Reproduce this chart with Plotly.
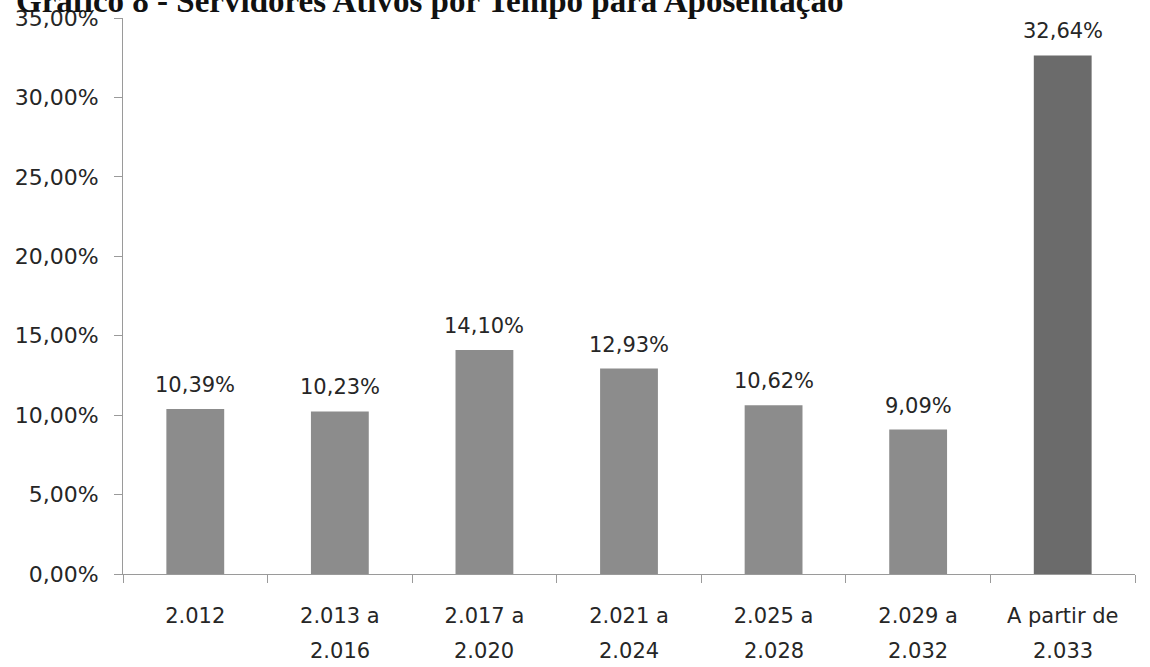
import plotly.graph_objects as go

categories = ["2.012", "2.013 a", "2.017 a", "2.021 a", "2.025 a", "2.029 a", "A partir de"]
second_line = ["", "2.016", "2.020", "2.024", "2.028", "2.032", "2.033"]
values = [10.39, 10.23, 14.10, 12.93, 10.62, 9.09, 32.64]
bar_colors = ["#8c8c8c"] * 6 + ["#6b6b6b"]
title_text = "Gráfico 8 - Servidores Ativos por Tempo para Aposentação"

FONT = "DejaVu Sans, Verdana, sans-serif"
TXT = "#262626"

fig = go.Figure(go.Bar(
    x=categories, y=values, width=0.4,
    marker=dict(color=bar_colors, line=dict(width=0)),
    hoverinfo="x+y",
))

# data labels above bars (x given as category index)
for i, v in enumerate(values):
    fig.add_annotation(
        x=i, y=v, xref="x", yref="y", text=f"{v:.2f}%".replace(".", ","),
        showarrow=False, yanchor="bottom", yshift=10,
        font=dict(family=FONT, size=21, color=TXT),
    )

# second line of category labels
for i, s in enumerate(second_line):
    if s:
        fig.add_annotation(
            x=i, y=0, xref="x", yref="paper", text=s,
            showarrow=False, yanchor="top", yshift=-63,
            font=dict(family=FONT, size=21, color=TXT),
        )

fig.update_layout(
    width=1150, height=667,
    margin=dict(l=123, r=15, t=18, b=93, autoexpand=False),
    paper_bgcolor="white", plot_bgcolor="white",
    separators=",.",
    showlegend=False,
    bargap=0.6,
    font=dict(family=FONT, size=21, color=TXT),
)
fig.update_yaxes(
    range=[0, 35], tick0=0, dtick=5, tickformat=".2f", ticksuffix="%",
    showgrid=False, zeroline=False, automargin=False,
    showline=True, linecolor="#9a9a9a", linewidth=1,
    ticks="outside", ticklen=8, tickcolor="#9a9a9a",
    tickfont=dict(family=FONT, size=22, color=TXT), ticklabelstandoff=11,
)
fig.update_xaxes(
    type="category",
    showgrid=False, showline=True, linecolor="#9a9a9a", linewidth=1, automargin=False,
    ticks="outside", ticklen=8, tickcolor="#9a9a9a", tickson="boundaries",
    tickfont=dict(family=FONT, size=21, color=TXT), ticklabelstandoff=23,
)
fig.add_annotation(
    text="<b>" + title_text + "</b>", xref="paper", yref="paper",
    x=0, y=1, xanchor="left", yanchor="bottom", xshift=-109, yshift=-3,
    showarrow=False,
    font=dict(family="Liberation Serif, Times New Roman, serif", size=33, color="#111111"),
)

fig.write_html("out.html", config={"displayModeBar": False},
               post_script="document.body.style.margin='0';")
